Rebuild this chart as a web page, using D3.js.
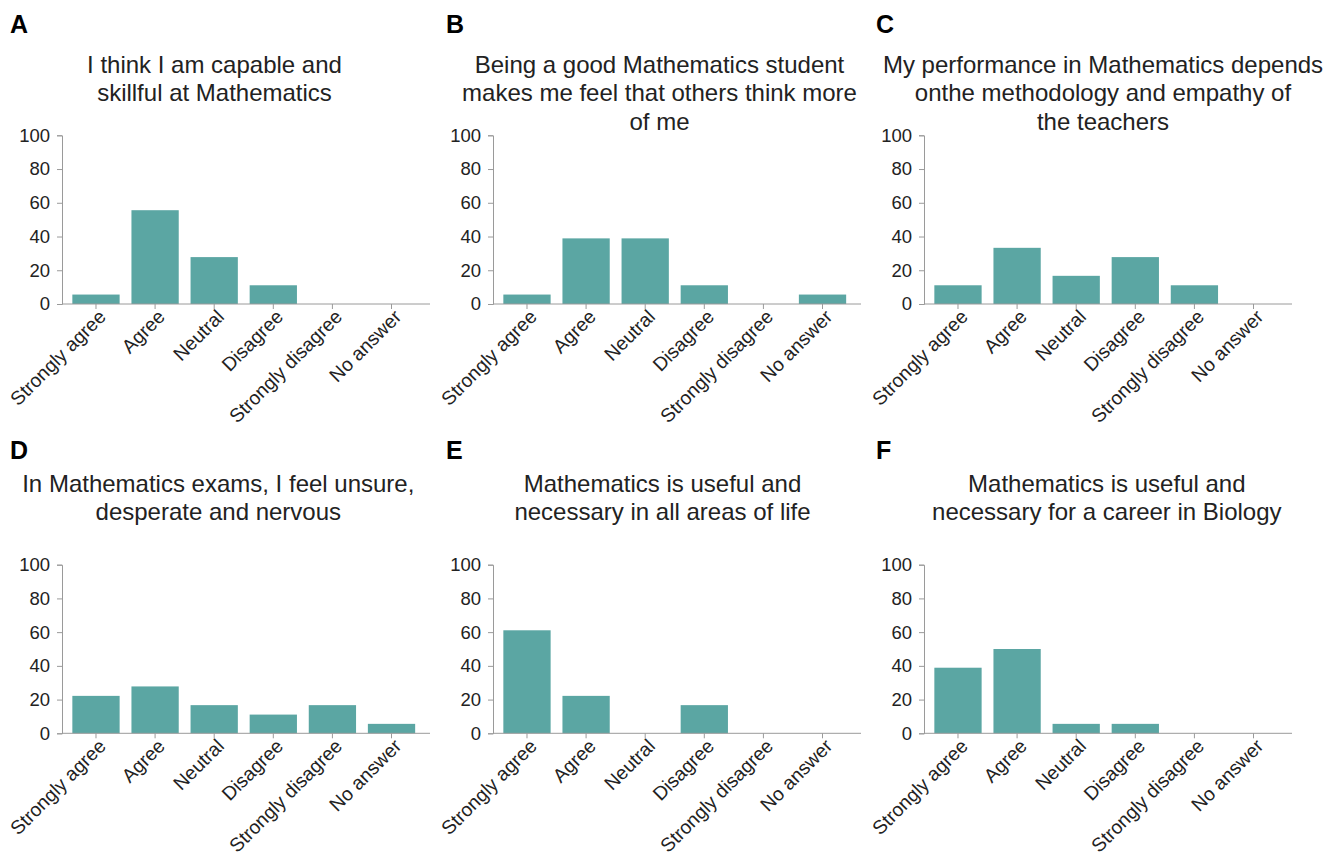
<!DOCTYPE html>
<html>
<head>
<meta charset="utf-8">
<script src="https://cdn.jsdelivr.net/npm/d3@7"></script>
<style>
  body { margin: 0; background: #fff; }
  svg { display: block; font-family: "Liberation Sans", Arial, sans-serif; }
</style>
</head>
<body>
<div id="chart"></div>
<script>
// --- Data ---
const categories = ["Strongly agree", "Agree", "Neutral", "Disagree", "Strongly disagree", "No answer"];
const panelLetters = ["A", "B", "C", "D", "E", "F"];
const panelTitles = [
    ["I think I am capable and", "skillful at Mathematics"],
    ["Being a good Mathematics student", "makes me feel that others think more", "of me"],
    ["My performance in Mathematics depends", "onthe methodology and empathy of", "the teachers"],
    ["In Mathematics exams, I feel unsure,", "desperate and nervous"],
    ["Mathematics is useful and", "necessary in all areas of life"],
    ["Mathematics is useful and", "necessary for a career in Biology"]
];
const valuesA = [5.6, 55.6, 27.8, 11.1, 0, 0];
const valuesB = [5.6, 38.9, 38.9, 11.1, 0, 5.6];
const valuesC = [11.1, 33.3, 16.7, 27.8, 11.1, 0];
const valuesD = [22.2, 27.8, 16.7, 11.1, 16.7, 5.6];
const valuesE = [61.1, 22.2, 0, 16.7, 0, 0];
const valuesF = [38.9, 50.0, 5.6, 5.6, 0, 0];
const panelValues = [valuesA, valuesB, valuesC, valuesD, valuesE, valuesF];
const yTicks = [0, 20, 40, 60, 80, 100];

// --- Layout (pixels) ---
const W = 1343, H = 860;
const colX = [62, 493, 924];          // y-axis position per column
const rowY = [[135.3, 304], [564.7, 733.3]]; // [top (100), bottom (0)] per row
const titleCX = [214.5, 659.5, 1103, 218.3, 662.5, 1106.8];
const titleY = [72.7, 491.7];
const letterY = [32.5, 458.5];
const letterX = [10, 446, 876];
const barColor = "#5ba6a3";
const axisColor = "#9a9a9a";
const textColor = "#222";

const svg = d3.select("#chart").append("svg")
    .attr("width", W)
    .attr("height", H)
    .attr("viewBox", [0, 0, W, H]);

panelValues.forEach((vals, i) => {
    const col = i % 3, row = Math.floor(i / 3);
    const x0 = colX[col];
    const [yTop, yBot] = rowY[row];

    const x = d3.scaleBand()
        .domain(categories)
        .range([x0, x0 + 363.5])
        .paddingInner(0.2)
        .paddingOuter(0.175);

    const y = d3.scaleLinear()
        .domain([0, 100])
        .range([yBot, yTop]);

    const g = svg.append("g");

    // panel letter
    g.append("text")
        .attr("x", letterX[col])
        .attr("y", letterY[row])
        .attr("font-size", 25)
        .attr("font-weight", "bold")
        .attr("fill", "#000")
        .text(panelLetters[i]);

    // title
    g.append("text")
        .attr("text-anchor", "middle")
        .attr("font-size", 24)
        .attr("fill", textColor)
        .selectAll("tspan")
        .data(panelTitles[i])
        .join("tspan")
        .attr("x", titleCX[i])
        .attr("y", (d, j) => titleY[row] + j * 28.5)
        .text(d => d);

    // bars
    g.append("g")
        .selectAll("rect")
        .data(vals)
        .join("rect")
        .attr("x", (d, j) => x(categories[j]))
        .attr("width", x.bandwidth())
        .attr("y", d => y(d))
        .attr("height", d => yBot - y(d))
        .attr("fill", barColor);

    // y axis
    const yAxis = g.append("g")
        .attr("transform", `translate(${x0},0)`)
        .call(d3.axisLeft(y).tickValues(yTicks).tickSize(5).tickPadding(7).tickSizeOuter(5));
    yAxis.select(".domain").attr("stroke", axisColor);
    yAxis.selectAll(".tick line").attr("stroke", axisColor);
    yAxis.selectAll(".tick text")
        .attr("font-size", 18.5)
        .attr("font-family", "Liberation Sans, Arial, sans-serif")
        .attr("fill", textColor);

    // x axis
    const xAxis = g.append("g")
        .attr("transform", `translate(0,${yBot})`)
        .call(d3.axisBottom(x).tickSize(5).tickSizeOuter(0));
    xAxis.select(".domain").remove();
    xAxis.append("line")
        .attr("x1", x0).attr("x2", x0 + 368)
        .attr("stroke", axisColor);
    xAxis.selectAll(".tick line").attr("stroke", axisColor);
    xAxis.selectAll(".tick text")
        .attr("font-size", 19.3)
        .attr("font-family", "Liberation Sans, Arial, sans-serif")
        .attr("fill", textColor)
        .attr("text-anchor", "end")
        .attr("x", 0).attr("y", 0).attr("dy", 0)
        .attr("transform", "translate(11,14) rotate(-45)");
});
</script>
</body>
</html>
